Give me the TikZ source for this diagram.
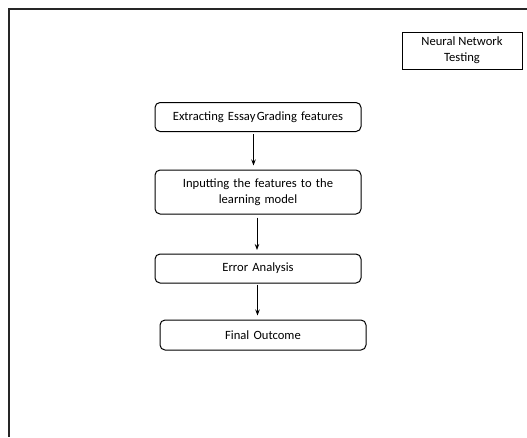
\documentclass[tikz,border=0pt]{standalone}
\usepackage{fontspec}
\setmainfont{Carlito}
\usetikzlibrary{arrows.meta}
\begin{document}
\begin{tikzpicture}[x=1pt,y=-1pt,
  stepbox/.style={draw=black, line width=1pt, rounded corners=5pt, fill=white,
    minimum height=29pt, minimum width=206pt, text width=200pt, align=center, inner sep=2pt,
    font=\fontsize{12.6pt}{16pt}\selectfont},
  titlebox/.style={draw=black, line width=1pt, fill=white,
    align=center, inner sep=2pt,
    font=\fontsize{12.6pt}{16pt}\selectfont},
  flow/.style={draw=black, line width=0.9pt, -{Stealth[length=6pt,width=4.5pt]}}]
  \useasboundingbox (0,0) rectangle (527,437);
  % outer frame: top rule and left rule
  \coordinate (ftl) at (8.5,8.5);
  \coordinate (ftr) at (527,8.5);
  \coordinate (fbl) at (8.5,437);
  \draw[line width=2pt, black!85] (ftr) -- (ftl) -- (fbl);

  % title box
  \node[titlebox, minimum width=120pt, minimum height=37pt] (title) at (462,50.5)
    {Neural Network\\Testing};

  % process steps
  \node[stepbox] (s1) at (258,117) {Extracting Essay\hspace{0.1em}Grading features};
  \node[stepbox, minimum height=44pt] (s2) at (258,192) {Inputting the features to the\\learning model};
  \node[stepbox] (s3) at (258,268.5) {Error Analysis};
  \node[stepbox, minimum height=30pt] (s4) at (263,335) {Final Outcome};

  % connectors
  \draw[flow] ([xshift=-4.5pt,yshift=-2pt]s1.south) -- ([xshift=-4.5pt,yshift=4pt]s2.north);
  \draw[flow] ([xshift=-1pt,yshift=-3pt]s2.south) -- ([xshift=-1pt,yshift=3.5pt]s3.north);
  \draw[flow] ([xshift=-0.5pt,yshift=-1pt]s3.south) -- ([xshift=-5.5pt,yshift=4pt]s4.north);
\end{tikzpicture}
\end{document}
